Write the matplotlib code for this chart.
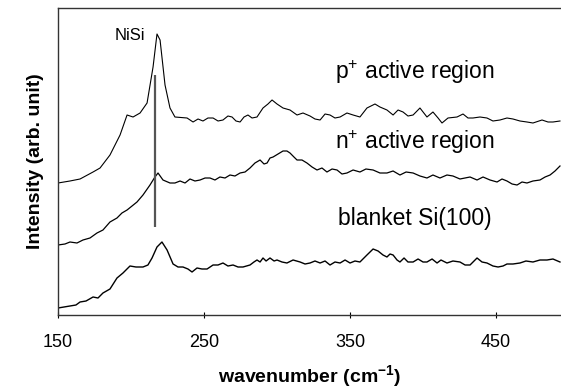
import matplotlib
matplotlib.use("Agg")
import matplotlib.pyplot as plt

plt.rcParams["font.family"] = ["Liberation Sans", "DejaVu Sans"]
plt.rcParams["mathtext.fontset"] = "custom"
plt.rcParams["mathtext.rm"] = "Liberation Sans"
plt.rcParams["mathtext.bf"] = "Liberation Sans:bold"

# Raman spectra (wavenumber in cm^-1, intensity in arb. units, offset per trace)
p_wn = [150.0, 158.2, 165.1, 174.0, 178.8, 185.6, 192.5, 197.3, 201.4, 206.2, 211.0, 215.1,
        217.8, 219.9, 223.3, 226.7, 230.1, 238.4, 242.5, 245.9, 249.3, 252.7, 256.2, 259.6,
        263.0, 266.4, 269.2, 271.9, 274.7, 277.4, 280.1, 282.9, 286.3, 290.4, 293.8, 296.6,
        300.0, 304.1, 308.9, 313.7, 317.8, 322.6, 326.0, 329.5, 332.9, 336.3, 339.7, 343.2,
        347.9, 352.1, 356.8, 361.6, 367.1, 370.5, 375.3, 379.5, 382.9, 386.3, 389.7, 393.2,
        397.9, 402.7, 406.8, 410.3, 413.0, 417.1, 423.3, 427.4, 430.8, 434.2, 439.0, 443.8,
        447.9, 452.7, 457.5, 461.6, 466.4, 471.2, 475.3, 481.5, 485.6, 489.0, 493.8]
p_int = [132, 134, 136, 143, 147, 160, 180, 200, 198, 202, 212, 248,
         281, 275, 230, 207, 198, 197, 193, 196, 194, 197, 197, 194,
         195, 199, 198, 194, 193, 198, 200, 197, 198, 207, 211, 215,
         211, 207, 205, 200, 202, 199, 196, 195, 201, 200, 197, 198,
         202, 200, 198, 207, 211, 208, 205, 200, 205, 203, 199, 200,
         207, 198, 203, 197, 192, 197, 198, 201, 197, 197, 198, 197,
         194, 195, 197, 196, 194, 193, 192, 195, 193, 193, 194]

n_wn = [150.0, 154.8, 158.2, 163.0, 167.1, 171.9, 176.7, 180.8, 185.6, 190.4, 193.8, 197.3,
        200.7, 204.1, 208.2, 213.0, 216.4, 218.5, 221.9, 226.7, 230.1, 233.6, 237.0, 240.4,
        243.8, 247.3, 250.7, 254.1, 257.5, 260.9, 264.4, 267.8, 271.2, 274.7, 278.1, 281.5,
        284.9, 288.4, 291.1, 293.2, 295.2, 297.3, 300.7, 304.1, 306.8, 308.9, 311.6, 313.7,
        317.1, 320.5, 324.0, 327.4, 330.8, 334.2, 337.7, 341.1, 344.5, 347.9, 352.1, 356.8,
        360.9, 365.8, 370.5, 375.3, 379.5, 384.2, 388.4, 393.2, 397.9, 402.7, 406.8, 411.6,
        416.4, 420.5, 425.3, 432.2, 437.0, 441.1, 445.9, 450.7, 454.1, 457.5, 461.0, 464.4,
        467.8, 471.2, 475.3, 480.1, 483.6, 487.0, 490.4, 493.8]
n_int = [70, 71, 73, 72, 75, 77, 82, 85, 93, 97, 102, 105,
         109, 113, 120, 130, 138, 142, 135, 132, 132, 134, 132, 136,
         134, 135, 137, 137, 135, 138, 137, 140, 139, 142, 143, 147,
         152, 155, 151, 152, 157, 158, 161, 164, 164, 162, 158, 155,
         155, 152, 148, 145, 147, 143, 146, 145, 141, 142, 145, 143,
         146, 145, 142, 142, 144, 140, 143, 142, 139, 137, 140, 137,
         140, 139, 136, 138, 135, 138, 135, 133, 136, 134, 131, 130,
         133, 132, 134, 135, 138, 140, 144, 149]

b_wn = [150.0, 154.1, 158.2, 162.3, 165.1, 169.2, 174.0, 177.4, 180.8, 185.6, 190.4, 194.5,
        199.3, 203.4, 208.2, 211.6, 214.4, 217.8, 221.2, 224.7, 228.8, 232.2, 235.6, 239.0,
        241.8, 245.2, 248.6, 252.1, 256.2, 259.6, 263.0, 266.4, 269.9, 273.3, 276.7, 281.5,
        284.2, 286.3, 288.4, 290.4, 292.5, 295.2, 298.0, 300.0, 303.4, 306.8, 311.0, 315.8,
        319.2, 322.6, 326.0, 329.5, 332.9, 336.3, 339.7, 343.2, 346.6, 350.0, 353.4, 356.8,
        361.6, 365.8, 369.2, 372.6, 375.3, 377.4, 379.5, 382.2, 384.2, 387.0, 389.7, 393.2,
        396.6, 400.0, 402.7, 406.2, 409.6, 412.3, 416.4, 420.5, 425.3, 428.8, 432.2, 437.0,
        440.4, 443.8, 447.9, 451.4, 454.8, 457.5, 461.6, 466.4, 470.5, 475.3, 480.1, 484.9,
        489.0, 493.8]
b_int = [7, 8, 9, 10, 13, 14, 18, 17, 22, 26, 37, 42,
         49, 48, 48, 50, 57, 68, 73, 65, 51, 48, 48, 46,
         43, 47, 46, 46, 50, 50, 52, 49, 50, 48, 48, 50,
         53, 55, 53, 57, 54, 57, 54, 55, 53, 52, 55, 53,
         51, 52, 54, 52, 54, 50, 53, 52, 55, 52, 54, 53,
         60, 66, 64, 60, 58, 61, 60, 55, 53, 57, 53, 53,
         56, 53, 53, 56, 52, 55, 52, 54, 53, 50, 50, 57,
         53, 52, 49, 48, 49, 51, 51, 52, 54, 53, 55, 55,
         56, 53]

nisi_pos = 216.4
nisi_span = [88, 240]
x_ticks = [150, 250, 350, 450]

fig = plt.figure(figsize=(5.61, 3.91), dpi=100)
ax = fig.add_axes([58 / 561, 76 / 391, 503 / 561, 307 / 391])

ax.plot(p_wn, p_int, color="black", lw=0.8)
ax.plot(n_wn, n_int, color="black", lw=0.9)
ax.plot(b_wn, b_int, color="black", lw=1.0)
ax.vlines(nisi_pos, nisi_span[0], nisi_span[1], color="#555555", lw=1.6)

ax.text(199.3, 279, "NiSi", fontsize=12, ha="center", va="center")
ax.text(339.7, 243, r"p$^{+}$ active region", fontsize=16.5, ha="left", va="center")
ax.text(339.7, 173, r"n$^{+}$ active region", fontsize=16.5, ha="left", va="center")
ax.text(341.8, 97, "blanket Si(100)", fontsize=16.5, ha="left", va="center")

ax.set_xlim(150, 494.5)
ax.set_ylim(0, 307)
ax.set_xticks(x_ticks)
ax.set_yticks([])
ax.tick_params(axis="x", direction="inout", length=5, width=0.8, pad=11, labelsize=13)
ax.spines["right"].set_visible(False)
for side in ["left", "bottom", "top"]:
    ax.spines[side].set_linewidth(1.0)
    ax.spines[side].set_color("#333333")

ax.set_xlabel(r"wavenumber (cm$^{\mathbf{-1}}$)", fontsize=14, fontweight="bold", labelpad=9)
ax.set_ylabel("Intensity (arb. unit)", fontsize=14, fontweight="bold", labelpad=10)

fig.savefig("out.png", dpi=100)
